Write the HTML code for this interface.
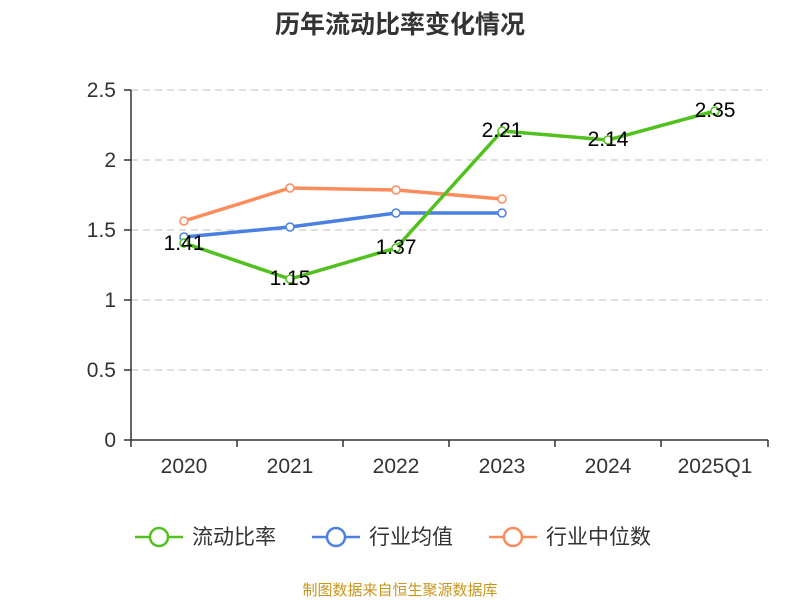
<!DOCTYPE html><html><head><meta charset="utf-8"><style>body{margin:0;background:#fff}svg{font-family:"Liberation Sans","Noto Sans CJK SC",sans-serif}</style></head><body>
<svg width="800" height="600" xmlns="http://www.w3.org/2000/svg">
<text x="400" y="33" text-anchor="middle" font-size="25" font-weight="bold" fill="#333">历年流动比率变化情况</text>
<g stroke="#ccc" stroke-dasharray="7,5" stroke-width="1.3">
<line x1="131" x2="768" y1="90" y2="90"/><line x1="131" x2="768" y1="160" y2="160"/><line x1="131" x2="768" y1="230" y2="230"/><line x1="131" x2="768" y1="300" y2="300"/><line x1="131" x2="768" y1="370" y2="370"/></g>
<g stroke="#333" stroke-width="1.5"><line x1="131" x2="131" y1="90" y2="440"/><line x1="131" x2="768" y1="440" y2="440"/>
<line x1="124" x2="131" y1="90" y2="90"/><line x1="124" x2="131" y1="160" y2="160"/><line x1="124" x2="131" y1="230" y2="230"/><line x1="124" x2="131" y1="300" y2="300"/><line x1="124" x2="131" y1="370" y2="370"/><line x1="124" x2="131" y1="440" y2="440"/>
<line x1="131" x2="131" y1="440" y2="447"/><line x1="237" x2="237" y1="440" y2="447"/><line x1="343" x2="343" y1="440" y2="447"/><line x1="449" x2="449" y1="440" y2="447"/><line x1="555" x2="555" y1="440" y2="447"/><line x1="661" x2="661" y1="440" y2="447"/><line x1="768" x2="768" y1="440" y2="447"/></g>
<g font-size="21" fill="#333" text-anchor="end"><text x="116" y="97">2.5</text><text x="116" y="167">2</text><text x="116" y="237">1.5</text><text x="116" y="307">1</text><text x="116" y="377">0.5</text><text x="116" y="447">0</text></g>
<g font-size="21" fill="#333" text-anchor="middle"><text x="184" y="473">2020</text><text x="290" y="473">2021</text><text x="396" y="473">2022</text><text x="502" y="473">2023</text><text x="608" y="473">2024</text><text x="715" y="473">2025Q1</text></g>
<g fill="none" stroke-width="3.5">
<polyline stroke="#fd8c5c" points="184,221 290,188 396,190 502,199"/>
<polyline stroke="#4a80e2" points="184,237 290,227 396,213 502,213"/>
<polyline stroke="#52c11f" points="184,243 290,279 396,248 502,131 608,140 715,111"/></g>
<g fill="#fff" stroke-width="1.5">
<g stroke="#fd8c5c"><circle cx="184" cy="221" r="4"/><circle cx="290" cy="188" r="4"/><circle cx="396" cy="190" r="4"/><circle cx="502" cy="199" r="4"/></g>
<g stroke="#4a80e2"><circle cx="184" cy="237" r="4"/><circle cx="290" cy="227" r="4"/><circle cx="396" cy="213" r="4"/><circle cx="502" cy="213" r="4"/></g>
<g stroke="#52c11f"><circle cx="184" cy="243" r="4"/><circle cx="290" cy="279" r="4"/><circle cx="396" cy="248" r="4"/><circle cx="502" cy="131" r="4"/><circle cx="608" cy="140" r="4"/><circle cx="715" cy="111" r="4"/></g></g>
<g font-size="21" fill="#000" text-anchor="middle"><text x="184" y="250">1.41</text><text x="290" y="285">1.15</text><text x="396" y="254">1.37</text><text x="502" y="137">2.21</text><text x="608" y="146">2.14</text><text x="715" y="117">2.35</text></g>
<g stroke-width="2.5" fill="#fff">
<line x1="135" x2="183" y1="537" y2="537" stroke="#52c11f"/><circle cx="159" cy="537" r="9" stroke="#52c11f"/>
<line x1="312" x2="360" y1="537" y2="537" stroke="#4a80e2"/><circle cx="336" cy="537" r="9" stroke="#4a80e2"/>
<line x1="489" x2="537" y1="537" y2="537" stroke="#fd8c5c"/><circle cx="513" cy="537" r="9" stroke="#fd8c5c"/></g>
<g font-size="21" fill="#333"><text x="192" y="544">流动比率</text><text x="369" y="544">行业均值</text><text x="546" y="544">行业中位数</text></g>
<text x="400" y="595" text-anchor="middle" font-size="15" fill="#c8961e">制图数据来自恒生聚源数据库</text>
</svg></body></html>
